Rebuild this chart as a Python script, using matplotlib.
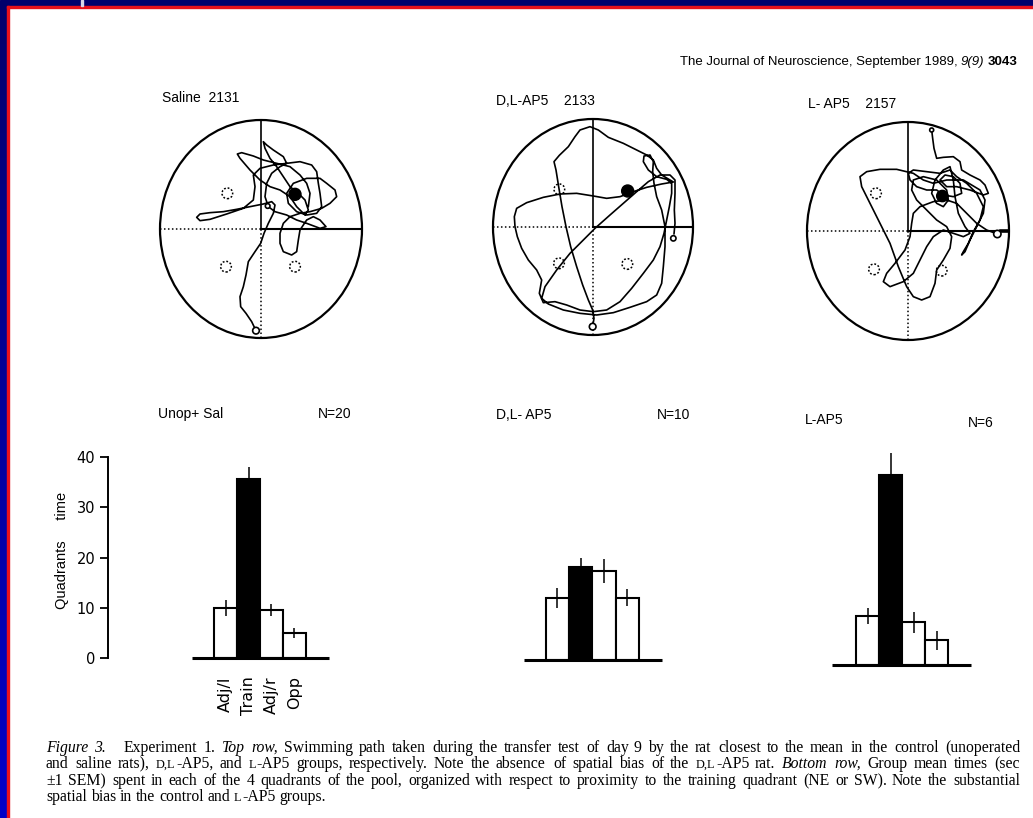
import numpy as np
import matplotlib
matplotlib.use("Agg")
import matplotlib.pyplot as plt
from matplotlib.patches import Ellipse, Rectangle

# ---------------- data ----------------
quadrants = ["Adj/l", "Train", "Adj/r", "Opp"]
bar_colors = ["white", "black", "white", "white"]
y_ticks = [0, 10, 20, 30, 40]

group_names = ["Unop+ Sal", "D,L- AP5", "L-AP5"]
group_n = ["N=20", "N=10", "N=6"]
time_unop_sal = [10.0, 35.6, 9.5, 4.9]
sem_unop_sal = [1.6, 2.5, 1.2, 1.0]
time_dl_ap5 = [12.3, 18.5, 17.8, 12.4]
sem_dl_ap5 = [2.0, 1.8, 2.4, 1.7]
time_l_ap5 = [9.8, 37.9, 8.5, 4.9]
sem_l_ap5 = [1.6, 4.5, 2.1, 1.9]

rat_titles = ["Saline  2131", "D,L-AP5    2133", "L- AP5    2157"]

# tracker frames: pool centre and radii in tracker units
frame_saline = (363, 447, 303, 327)
frame_dl = (339, 441, 300, 324)
frame_l = (384, 453, 303, 327)

# swim paths (tracker units, y downward)
path_saline_2131 = [
    (348, 752), (335, 725), (318, 700), (302, 680), (300, 650), (310, 620), (318, 585), (325, 545),
    (345, 515), (362, 490), (372, 460), (385, 430), (400, 400), (405, 375), (395, 365), (370, 372),
    (330, 380), (290, 388), (250, 395), (210, 398), (180, 402), (170, 412), (180, 422), (210, 418),
    (260, 402), (310, 385), (340, 360), (345, 320), (340, 285), (360, 265), (400, 255), (440, 250),
    (480, 245), (515, 255), (530, 275), (535, 310), (540, 340), (545, 380), (530, 400), (500, 405),
    (470, 395), (445, 370), (440, 340), (460, 310), (500, 295), (540, 295), (560, 310), (585, 330),
    (590, 350), (570, 370), (545, 385), (510, 395), (480, 400), (450, 410), (430, 430), (420, 460),
    (420, 490), (430, 515), (455, 525), (470, 515), (475, 480), (480, 450), (500, 420), (520, 410),
    (540, 420), (558, 440), (540, 445), (500, 430), (470, 420), (440, 405), (405, 395), (385, 380),
    (375, 350), (380, 310), (395, 280), (420, 260), (440, 250), (430, 230), (400, 210), (380, 195),
    (370, 185), (375, 205), (390, 235), (410, 260), (430, 290), (450, 320), (475, 340), (495, 360),
    (505, 390), (495, 405), (470, 380), (450, 350), (420, 330), (390, 320), (360, 300), (330, 270),
    (300, 235), (292, 222), (305, 218), (340, 228), (370, 240), (410, 250), (450, 260), (480, 285),
    (500, 310), (510, 340), (505, 380),
]
path_dl_2133 = [
    (338, 740), (342, 715), (338, 690), (325, 660), (308, 615), (290, 560), (272, 500), (258, 440),
    (246, 380), (236, 320), (228, 270), (222, 245), (238, 226), (265, 200), (285, 170), (300, 150),
    (330, 140), (355, 150), (385, 172), (430, 190), (470, 210), (500, 225), (520, 240), (530, 265),
    (545, 285), (570, 300), (580, 306), (545, 312), (500, 322), (460, 335), (420, 350), (380, 355),
    (340, 348), (290, 340), (240, 342), (190, 352), (140, 368), (110, 385), (103, 410), (105, 440),
    (112, 470), (125, 505), (145, 540), (170, 570), (185, 600), (178, 640), (190, 668), (225, 665),
    (260, 675), (300, 690), (340, 695), (380, 690), (420, 665), (455, 625), (490, 580), (520, 540),
    (540, 500), (552, 460), (560, 420), (568, 380), (575, 340), (575, 310), (560, 298), (530, 290),
    (505, 270), (490, 245), (492, 228), (510, 225), (520, 245), (518, 275), (522, 310), (530, 350),
    (545, 390), (555, 440), (555, 500), (550, 560), (545, 610), (530, 645), (500, 665), (450, 682),
    (400, 698), (350, 705), (300, 700), (250, 690), (205, 672), (185, 655), (195, 620), (230, 570),
    (270, 520), (310, 480), (345, 445), (390, 405), (430, 370), (470, 335), (505, 305), (540, 285),
    (570, 285), (585, 300), (585, 340), (583, 390), (585, 430), (582, 462),
]
path_l_2157 = [
    (455, 150), (458, 175), (462, 205), (470, 235), (490, 232), (520, 230), (540, 245), (545, 270),
    (570, 285), (600, 300), (615, 315), (625, 340), (610, 345), (570, 330), (530, 320), (500, 320),
    (480, 300), (495, 285), (520, 290), (540, 310), (545, 340), (520, 350), (490, 345), (470, 330),
    (440, 330), (410, 320), (390, 300), (385, 280), (400, 270), (440, 275), (480, 280), (510, 270),
    (530, 290), (560, 310), (590, 340), (610, 380), (600, 420), (580, 455), (565, 490), (550, 515),
    (545, 525), (555, 515), (570, 480), (590, 440), (610, 400), (615, 360), (600, 330), (550, 300),
    (500, 300), (460, 310), (430, 300), (400, 280), (350, 268), (300, 268), (260, 275), (240, 290),
    (245, 320), (270, 370), (300, 430), (330, 490), (355, 560), (380, 620), (400, 650), (425, 660),
    (450, 650), (465, 610), (470, 570), (490, 540), (510, 505), (515, 470), (500, 440), (470, 420),
    (440, 390), (410, 360), (395, 330), (400, 300), (430, 290), (470, 300), (500, 330), (505, 360),
    (490, 380), (470, 370), (455, 340), (465, 300), (490, 270), (510, 260), (520, 300), (525, 350),
    (535, 400), (555, 440), (570, 460), (550, 470), (520, 460), (490, 450), (460, 470), (440, 500),
    (420, 540), (400, 580), (370, 605), (330, 620), (310, 605), (320, 580), (345, 550), (375, 510),
    (390, 470), (395, 430), (400, 400), (420, 380), (460, 365), (500, 360), (530, 370), (560, 400),
    (590, 430), (620, 450), (652, 462),
]
# platforms: (x, y, radius, kind) kind: 'dash' empty quadrant, 'fill' former platform, 'open' marker
platforms_saline = [(262, 340, 16, "dash"), (258, 560, 16, "dash"), (465, 560, 16, "dash"),
                    (465, 343, 18, "fill"), (348, 752, 10, "open"), (383, 378, 7, "open")]
platforms_dl = [(238, 328, 16, "dash"), (237, 550, 16, "dash"), (442, 552, 16, "dash"),
                (443, 333, 18, "fill"), (338, 740, 10, "open"), (580, 475, 8, "open")]
platforms_l = [(288, 340, 16, "dash"), (282, 568, 16, "dash"), (485, 572, 16, "dash"),
               (487, 348, 17, "fill"), (455, 150, 6, "open"), (652, 462, 11, "open")]

# ---------------- figure ----------------
W, H = 1033, 818
fig = plt.figure(figsize=(W / 100, H / 100), dpi=100)
fig.patch.set_facecolor("white")
plt.rcParams["font.family"] = ["Liberation Sans", "DejaVu Sans"]
SERIF = ["Liberation Serif", "DejaVu Serif"]
WIDE = ["DejaVu Sans"]
renderer = fig.canvas.get_renderer()


def fx(x):
    return x / W


def fy(y):
    return 1 - y / H


def rect_px(x0, y0, x1, y1):
    return [fx(x0), fy(y1), (x1 - x0) / W, (y1 - y0) / H]


# page border (scan frame)
fig.add_artist(Rectangle((0, fy(6)), 1, 6 / H, transform=fig.transFigure, color="#00006c", zorder=5))
fig.add_artist(Rectangle((fx(7), fy(8)), 1, 2 / H, transform=fig.transFigure, color="#e8101a", zorder=5))
gax = fig.add_axes(rect_px(0, 6, 7, H))
gax.imshow(np.linspace(0, 1, 64).reshape(-1, 1), aspect="auto",
           cmap=matplotlib.colors.LinearSegmentedColormap.from_list("b", ["#00006c", "#0000c8"]))
gax.axis("off")
fig.add_artist(Rectangle((fx(7), 0), 2 / W, fy(6), transform=fig.transFigure, color="#e8101a", zorder=5))
fig.add_artist(Rectangle((fx(81), fy(6)), 2 / W, 6 / H, transform=fig.transFigure, color="#d8d8e8", zorder=6))

LAB = dict(fontsize=10, color="black")

# ---------------- swim path panels ----------------
pool_px = [(261, 229, 101, 109), (593, 227, 100, 108), (908, 231, 101, 109)]
frames = [frame_saline, frame_dl, frame_l]
paths = [path_saline_2131, path_dl_2133, path_l_2157]
plats = [platforms_saline, platforms_dl, platforms_l]
title_pos = [(162, 98), (496, 101), (808, 104)]

for (cxp, cyp, rxp, ryp), (cx, cy, rx, ry), path, pl, title, tp in zip(
        pool_px, frames, paths, plats, rat_titles, title_pos):
    ax = fig.add_axes(rect_px(cxp - rxp, cyp - ryp, cxp + rxp, cyp + ryp))
    ax.set_xlim(-1, 1)
    ax.set_ylim(-1, 1)
    ax.axis("off")
    ax.add_patch(Ellipse((0, 0), 2, 2, facecolor="none", edgecolor="black", lw=1.6, clip_on=False))
    ax.plot([0, 0], [0, 1], color="black", lw=1.2)
    ax.plot([0, 1], [0, 0], color="black", lw=1.5)
    ax.plot([-1, 0], [0, 0], color="black", lw=1.1, ls=(0, (1, 1.6)))
    ax.plot([0, 0], [-1, 0], color="black", lw=1.1, ls=(0, (1, 1.6)))
    arr = np.array(path, dtype=float)
    ax.plot((arr[:, 0] - cx) / rx, (cy - arr[:, 1]) / ry, color="black", lw=1.2,
            solid_joinstyle="round", solid_capstyle="round")
    for (px, py, r, kind) in pl:
        xy = ((px - cx) / rx, (cy - py) / ry)
        if kind == "dash":
            e = Ellipse(xy, 2 * r / rx, 2 * r / ry, facecolor="none", edgecolor="black", lw=1.1,
                        ls=(0, (1.2, 1.2)))
        elif kind == "fill":
            e = Ellipse(xy, 2 * r / rx, 2 * r / ry, facecolor="black", edgecolor="black", lw=1)
        else:
            e = Ellipse(xy, 2 * r / rx, 2 * r / ry, facecolor="white", edgecolor="black", lw=1.2, zorder=4)
        ax.add_patch(e)
    fig.text(fx(tp[0]), fy(tp[1]), title, ha="left", va="center", **LAB)

# short start segment at east wall of L-AP5 pool
ax.plot([(663 - frame_l[0]) / frame_l[2], 1.0], [0, 0], color="black", lw=2.6)

# ---------------- bar panels ----------------
PXU = 5.01  # pixels per second
TOP = 46
bar_layout = [
    # base_y, first centre, step, baseline x0, x1, left edge
    (657.7, 225.8, 22.8, 192, 329, 107.7),
    (660.0, 557.3, 23.4, 524, 662, 524),
    (665.0, 867.5, 23.0, 832, 971, 832),
]
series = [(time_unop_sal, sem_unop_sal), (time_dl_ap5, sem_dl_ap5), (time_l_ap5, sem_l_ap5)]
head_pos = [((158, 414), (318, 414)), ((496, 415), (657, 415)), ((805, 420), (968, 423))]

for i, ((base_y, c0, step, xb0, xb1, L), (vals, sems), name, n, (hp1, hp2)) in enumerate(
        zip(bar_layout, series, group_names, group_n, head_pos)):
    ax = fig.add_axes(rect_px(L, base_y - TOP * PXU, xb1, base_y))
    ax.set_xlim((L - c0) / step, (xb1 - c0) / step)
    ax.set_ylim(0, TOP)
    ax.patch.set_alpha(0)
    x = np.arange(len(quadrants))
    ax.bar(x, vals, width=1.0, color=bar_colors, edgecolor="black", linewidth=1.5, zorder=2)
    ax.errorbar(x, vals, yerr=sems, fmt="none", ecolor="black", elinewidth=1.1, capsize=0, zorder=3)
    ax.plot([(xb0 - c0) / step, (xb1 - c0) / step], [0, 0], color="black", lw=2.2,
            solid_capstyle="butt", clip_on=False, zorder=4)
    for s in ["top", "right", "bottom"]:
        ax.spines[s].set_visible(False)
    if i == 0:
        ax.spines["left"].set_bounds(0, 40)
        ax.spines["left"].set_linewidth(1.4)
        ax.set_yticks(y_ticks)
        ax.set_yticklabels([str(v) for v in y_ticks], family=WIDE, fontsize=10.5)
        ax.tick_params(axis="y", direction="out", length=6, width=1.3, pad=3)
        ax.set_xticks(x)
        ax.set_xticklabels(quadrants, rotation=90, fontsize=11.5, family=WIDE)
        ax.tick_params(axis="x", length=0, pad=13.5)
    else:
        ax.spines["left"].set_visible(False)
        ax.set_xticks([])
        ax.set_yticks([])
    fig.text(fx(hp1[0]), fy(hp1[1]), name, ha="left", va="center", **LAB)
    fig.text(fx(hp2[0]), fy(hp2[1]), n, ha="left", va="center", **LAB)

fig.text(fx(62), fy(550), "Quadrants     time", rotation=90, ha="center", va="center", fontsize=10.5)

# ---------------- running header ----------------
hsize = 9.5
hsegs = [("The Journal of Neuroscience, September 1989,", "normal", "normal"),
         ("9(9)", "italic", "normal"), ("3043", "normal", "bold")]
objs = []
for s, st, wt in hsegs:
    t = fig.text(0, fy(65), s, fontsize=hsize, style=st, weight=wt, ha="left", va="baseline",
                 family=["Liberation Sans", "DejaVu Sans"])
    objs.append((t, t.get_window_extent(renderer).width))
sp = hsize * 100 / 72 * 0.28
total = sum(w for _, w in objs) + sp * (len(objs) - 1)
xx = 1018 - total
for t, w in objs:
    t.set_x(fx(xx))
    xx += w + sp

# ---------------- caption ----------------
caption_lines = [
    "*Figure 3.*   Experiment 1. *Top row,* Swimming path taken during the transfer test of day 9 by the rat closest to the mean in the control (unoperated",
    "and saline rats), {D,L}-AP5, and {L}-AP5 groups, respectively. Note the absence of spatial bias of the {D,L}-AP5 rat. *Bottom row,* Group mean times (sec",
    "\u00b11 SEM) spent in each of the 4 quadrants of the pool, organized with respect to proximity to the training quadrant (NE or SW). Note the substantial",
    "spatial bias in the control and {L}-AP5 groups.",
]
caption_base = [752, 768, 785, 801]
csize = 11.3


def parse_words(line):
    words = []
    italic = False
    for raw in line.split(" "):
        segs, buf, sc = [], "", False
        for ch in raw:
            if ch in "*{}":
                if buf:
                    segs.append((buf, "sc" if sc else ("i" if italic else "n")))
                    buf = ""
                if ch == "*":
                    italic = not italic
                elif ch == "{":
                    sc = True
                else:
                    sc = False
            else:
                buf += ch
        if buf:
            segs.append((buf, "sc" if sc else ("i" if italic else "n")))
        words.append(segs)
    return words


for k, (line, yb) in enumerate(zip(caption_lines, caption_base)):
    words = parse_words(line)
    objs, widths = [], []
    for segs in words:
        wo, ww = [], 0
        for s, st in segs:
            fs = csize * 0.78 if st == "sc" else csize
            t = fig.text(0, (H - yb) / H, s, fontsize=fs, family=SERIF,
                         style="italic" if st == "i" else "normal", ha="left", va="baseline")
            w = t.get_window_extent(renderer).width
            wo.append((t, w))
            ww += w
        objs.append(wo)
        widths.append(ww)
    x0, x1 = 46, 1020
    if k < 3:
        gap = (x1 - x0 - sum(widths)) / (len(words) - 1)
    else:
        gap = csize * 100 / 72 * 0.25
    xx = x0
    for wo in objs:
        for t, w in wo:
            t.set_x(fx(round(xx)))
            xx += w
        xx += gap

fig.savefig("out.png", dpi=100, facecolor="white")
